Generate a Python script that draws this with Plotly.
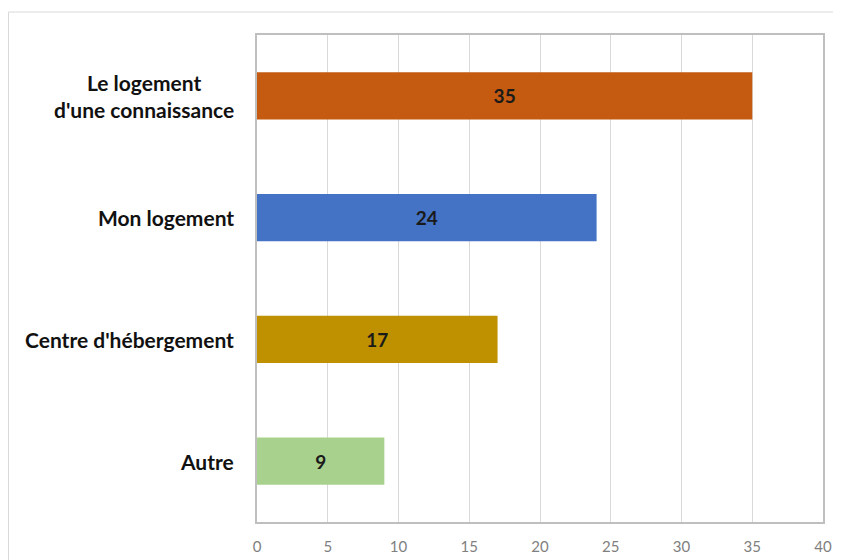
import plotly.graph_objects as go

categories = ["Le logement<br>d'une connaissance", "Mon logement", "Centre d'hébergement", "Autre"]
values = [35, 24, 17, 9]
colors = ["#C55A11", "#4472C4", "#BF9000", "#A9D18E"]
x_ticks = [0, 5, 10, 15, 20, 25, 30, 35, 40]

FONT = "Lato, Carlito, sans-serif"

fig = go.Figure()
fig.add_trace(go.Bar(
    y=categories, x=values, orientation="h",
    marker=dict(color=colors, line=dict(width=0)),
    width=0.39,
    text=[f"<b>{v}</b>" for v in values],
    textposition="inside", insidetextanchor="middle",
    textfont=dict(family=FONT, size=19, color="#1a1a1a"),
    hoverinfo="skip",
))

annotations = []
for c in categories:
    annotations.append(dict(
        x=0, xref="paper", xshift=-21, y=c, yref="y",
        text=f"<b>{c}</b>", showarrow=False, align="center",
        xanchor="right", yanchor="middle",
        font=dict(family=FONT, size=21, color="#111111"),
    ))

PW, PH = 566, 487
L, T = 249, 27

fig.update_layout(
    width=841, height=560,
    margin=dict(l=L, r=841 - L - PW, t=T, b=560 - T - PH, autoexpand=False),
    paper_bgcolor="white", plot_bgcolor="white",
    showlegend=False,
    annotations=annotations,
    xaxis=dict(
        range=[0, 40], tickvals=x_ticks, ticktext=[str(t) for t in x_ticks],
        showgrid=True, gridcolor="#D9D9D9", gridwidth=1,
        zeroline=False, showline=True, linecolor="#BFBFBF", linewidth=2, mirror=True,
        ticks="outside", ticklen=10, tickcolor="rgba(0,0,0,0)",
        tickfont=dict(family=FONT, size=15, color="#7F7F7F"),
        fixedrange=True,
    ),
    yaxis=dict(
        categoryorder="array", categoryarray=categories[::-1],
        range=[-0.5, 3.5],
        showticklabels=False, showgrid=False, zeroline=False,
        showline=True, linecolor="#BFBFBF", linewidth=2, mirror=True,
        fixedrange=True,
    ),
    shapes=[dict(type="rect", xref="paper", yref="paper",
                 x0=(0.5 - L) / PW, x1=1 + 60 / PW, y0=-0.3, y1=1 + (T - 4) / PH,
                 line=dict(color="#D9D9D9", width=1), layer="below")],
)

fig.write_html("out.html")
